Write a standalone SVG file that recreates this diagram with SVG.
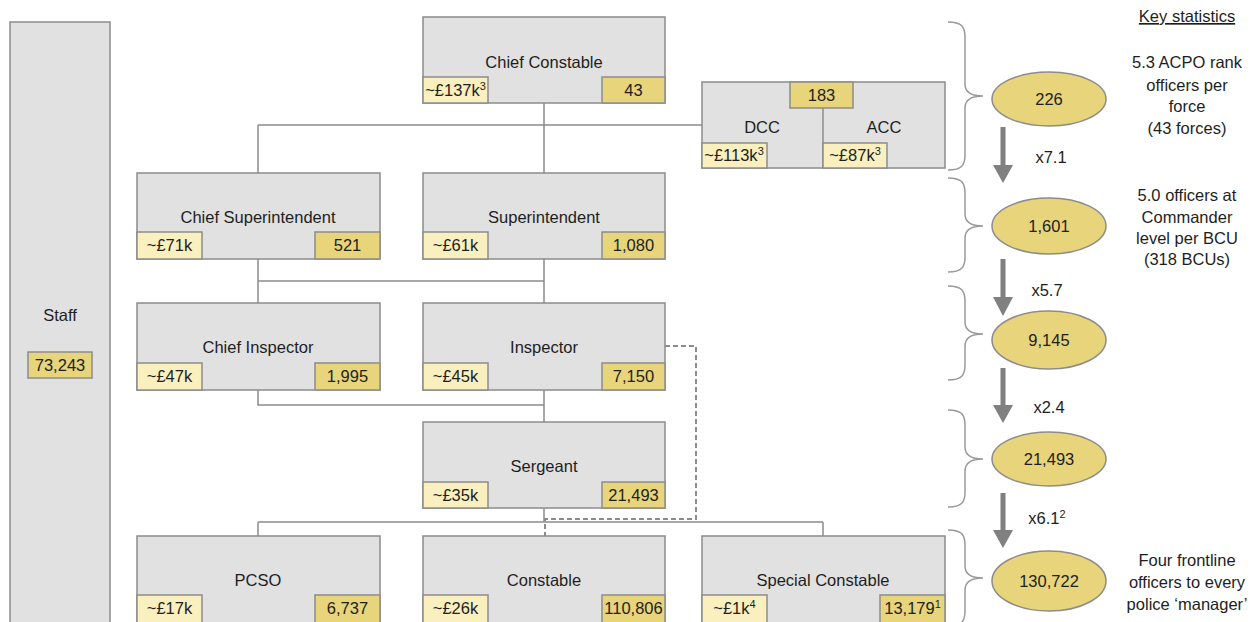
<svg xmlns="http://www.w3.org/2000/svg" width="1253" height="622" viewBox="0 0 1253 622">
<style>
.box{fill:#e1e1e1;stroke:#8c8c8c;stroke-width:1.5}
.sal{fill:#f9efbf;stroke:#8c8c8c;stroke-width:1.5}
.num{fill:#e8d47a;stroke:#8c8c8c;stroke-width:1.5}
.t{font-family:"Liberation Sans",Arial,sans-serif;font-size:16.5px;fill:#1e1e1e;text-anchor:middle}
.conn{stroke:#8c8c8c;stroke-width:1.5;fill:none}
.dash{stroke:#8c8c8c;stroke-width:2;fill:none;stroke-dasharray:5 3}
.brace{stroke:#9a9a9a;stroke-width:1.5;fill:none}
.ell{fill:#e8d47a;stroke:#8c8c8c;stroke-width:1.5}
.arr{fill:#808080}
</style>
<rect width="1253" height="622" fill="#ffffff"/>

<g id="connectors">
<path class="conn" d="M544,103 V173 M258,125 H702 M258,125 V173"/>
<path class="conn" d="M258,259 V303 M544,259 V303 M258,281 H544"/>
<path class="conn" d="M258,390 V405 H544 M544,390 V422"/>
<path class="conn" d="M544,508 V522 M258,522 H823 M258,522 V536 M823,522 V536"/>
<path class="dash" d="M665,346 H696 V519 H545 V536"/>
</g>

<g id="staff">
<rect class="box" x="10" y="22" width="100" height="604"/>
<text class="t" x="60" y="321">Staff</text>
<rect class="num" x="28" y="352" width="64" height="26"/>
<text class="t" x="60" y="371">73,243</text>
</g>

<g id="chief-constable">
<rect class="box" x="423" y="17" width="242" height="86"/>
<text class="t" x="544" y="68">Chief Constable</text>
<rect class="sal" x="423" y="77" width="65" height="26"/>
<text class="t" x="455.5" y="96">~£137k<tspan font-size="11" dy="-6">3</tspan></text>
<rect class="num" x="602" y="77" width="63" height="26"/>
<text class="t" x="633.5" y="96">43</text>
</g>

<g id="dcc-acc">
<rect class="box" x="702" y="82" width="243" height="86"/>
<line class="conn" x1="823" y1="108" x2="823" y2="168"/>
<text class="t" x="762" y="133">DCC</text>
<text class="t" x="884" y="133">ACC</text>
<rect class="num" x="790" y="82" width="63" height="26"/>
<text class="t" x="821.5" y="101">183</text>
<rect class="sal" x="702" y="143" width="65" height="25"/>
<text class="t" x="734" y="161">~£113k<tspan font-size="11" dy="-6">3</tspan></text>
<rect class="sal" x="823" y="143" width="64" height="25"/>
<text class="t" x="855" y="161">~£87k<tspan font-size="11" dy="-6">3</tspan></text>
</g>

<g id="chief-superintendent">
<rect class="box" x="137" y="173" width="243" height="86"/>
<text class="t" x="258" y="223">Chief Superintendent</text>
<rect class="sal" x="137" y="232" width="65" height="27"/>
<text class="t" x="169.5" y="251">~£71k</text>
<rect class="num" x="315" y="232" width="65" height="27"/>
<text class="t" x="347.5" y="251">521</text>
</g>

<g id="superintendent">
<rect class="box" x="423" y="173" width="242" height="86"/>
<text class="t" x="544" y="223">Superintendent</text>
<rect class="sal" x="423" y="232" width="65" height="27"/>
<text class="t" x="455.5" y="251">~£61k</text>
<rect class="num" x="602" y="232" width="63" height="27"/>
<text class="t" x="633.5" y="251">1,080</text>
</g>

<g id="chief-inspector">
<rect class="box" x="137" y="303" width="243" height="87"/>
<text class="t" x="258" y="353">Chief Inspector</text>
<rect class="sal" x="137" y="363" width="65" height="27"/>
<text class="t" x="169.5" y="382">~£47k</text>
<rect class="num" x="315" y="363" width="65" height="27"/>
<text class="t" x="347.5" y="382">1,995</text>
</g>

<g id="inspector">
<rect class="box" x="423" y="303" width="242" height="87"/>
<text class="t" x="544" y="353">Inspector</text>
<rect class="sal" x="423" y="363" width="65" height="27"/>
<text class="t" x="455.5" y="382">~£45k</text>
<rect class="num" x="602" y="363" width="63" height="27"/>
<text class="t" x="633.5" y="382">7,150</text>
</g>

<g id="sergeant">
<rect class="box" x="423" y="422" width="242" height="86"/>
<text class="t" x="544" y="472">Sergeant</text>
<rect class="sal" x="423" y="482" width="65" height="26"/>
<text class="t" x="455.5" y="501">~£35k</text>
<rect class="num" x="602" y="482" width="63" height="26"/>
<text class="t" x="633.5" y="501">21,493</text>
</g>

<g id="pcso">
<rect class="box" x="137" y="536" width="243" height="90"/>
<text class="t" x="258" y="586">PCSO</text>
<rect class="sal" x="137" y="595" width="65" height="31"/>
<text class="t" x="169.5" y="614">~£17k</text>
<rect class="num" x="315" y="595" width="65" height="31"/>
<text class="t" x="347.5" y="614">6,737</text>
</g>

<g id="constable">
<rect class="box" x="423" y="536" width="242" height="90"/>
<text class="t" x="544" y="586">Constable</text>
<rect class="sal" x="423" y="595" width="65" height="31"/>
<text class="t" x="455.5" y="614">~£26k</text>
<rect class="num" x="602" y="595" width="63" height="31"/>
<text class="t" x="633.5" y="614">110,806</text>
</g>

<g id="special-constable">
<rect class="box" x="702" y="536" width="243" height="90"/>
<text class="t" x="823" y="586">Special Constable</text>
<rect class="sal" x="702" y="595" width="65" height="31"/>
<text class="t" x="734.5" y="614">~£1k<tspan font-size="11" dy="-6">4</tspan></text>
<rect class="num" x="880" y="595" width="65" height="31"/>
<text class="t" x="912.5" y="614">13,179<tspan font-size="11" dy="-6">1</tspan></text>
</g>

<g id="braces">
<path class="brace" d="M948,22 C962,22 965,27 965,37 V84 C965,93 972,96 983,96 C972,96 965,99 965,108 V155 C965,165 962,170 948,170"/>
<path class="brace" d="M948,178 C962,178 965,183 965,193 V214 C965,223 972,226 983,226 C972,226 965,229 965,238 V257 C965,267 962,272 948,272"/>
<path class="brace" d="M948,286 C962,286 965,291 965,301 V322 C965,331 972,334 983,334 C972,334 965,337 965,346 V365 C965,375 962,380 948,380"/>
<path class="brace" d="M948,410 C962,410 965,415 965,425 V447 C965,456 972,459 983,459 C972,459 965,462 965,471 V492 C965,502 962,507 948,507"/>
<path class="brace" d="M948,530 C962,530 965,535 965,545 V566 C965,575 972,578 983,578 C972,578 965,581 965,590 V611 C965,621 962,626 948,626"/>
</g>

<g id="stat-226">
<ellipse class="ell" cx="1049" cy="99" rx="57" ry="27"/>
<text class="t" x="1049" y="105">226</text>
</g>
<g id="stat-1601">
<ellipse class="ell" cx="1049" cy="226" rx="57" ry="28"/>
<text class="t" x="1049" y="232">1,601</text>
</g>
<g id="stat-9145">
<ellipse class="ell" cx="1049" cy="340" rx="57" ry="29"/>
<text class="t" x="1049" y="346">9,145</text>
</g>
<g id="stat-21493">
<ellipse class="ell" cx="1049" cy="459" rx="57" ry="27"/>
<text class="t" x="1049" y="465">21,493</text>
</g>
<g id="stat-130722">
<ellipse class="ell" cx="1049" cy="581" rx="57" ry="30"/>
<text class="t" x="1049" y="587">130,722</text>
</g>

<g id="arrows">
<path class="arr" d="M1000.5,127 h5 v38 h7.5 l-10,18 l-10,-18 h7.5 z"/>
<path class="arr" d="M1000.5,259 h5 v38 h7.5 l-10,19 l-10,-19 h7.5 z"/>
<path class="arr" d="M1000.5,368 h5 v37 h7.5 l-10,18 l-10,-18 h7.5 z"/>
<path class="arr" d="M1000.5,493 h5 v37 h7.5 l-10,18 l-10,-18 h7.5 z"/>
<text class="t" x="1051" y="163">x7.1</text>
<text class="t" x="1047" y="296">x5.7</text>
<text class="t" x="1049" y="413">x2.4</text>
<text class="t" x="1047" y="524">x6.1<tspan font-size="11" dy="-6">2</tspan></text>
</g>

<g id="key-statistics">
<text class="t" x="1187" y="22" text-decoration="underline">Key statistics</text>
<text class="t" x="1187" y="68">5.3 ACPO rank</text>
<text class="t" x="1187" y="90.5">officers per</text>
<text class="t" x="1187" y="112">force</text>
<text class="t" x="1187" y="134">(43 forces)</text>
<text class="t" x="1187" y="201">5.0 officers at</text>
<text class="t" x="1187" y="222.5">Commander</text>
<text class="t" x="1187" y="244">level per BCU</text>
<text class="t" x="1187" y="265">(318 BCUs)</text>
<text class="t" x="1187" y="566">Four frontline</text>
<text class="t" x="1187" y="588">officers to every</text>
<text class="t" x="1187" y="610">police ‘manager’</text>
</g>
</svg>
